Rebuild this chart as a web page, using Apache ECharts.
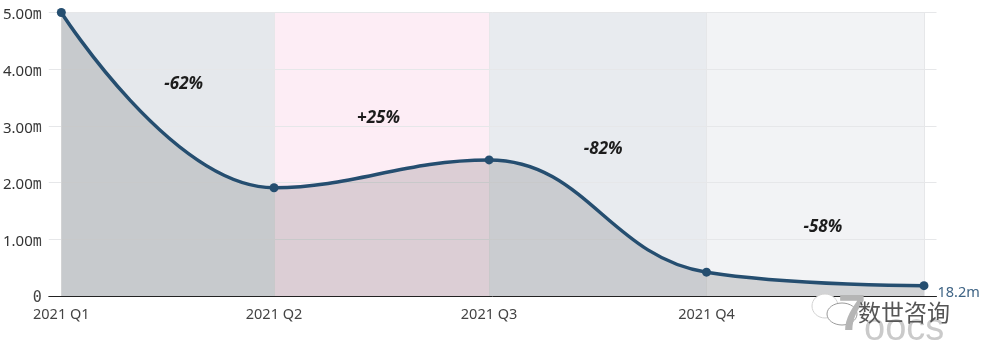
<!DOCTYPE html>
<html>
<head>
<meta charset="utf-8">
<script src="https://cdn.jsdelivr.net/npm/echarts@6/dist/echarts.min.js"></script>
<style>
html, body { margin: 0; padding: 0; background: #fff; }
#chart { width: 984px; height: 353px; }
</style>
</head>
<body>
<div id="chart"></div>
<script>
// 季度起点，单位是距 2021-01-01 的天数（季度长度不等）
const quarterDays = [0, 90, 181, 273, 365]
const quarterLabels = ['2021 Q1', '2021 Q2', '2021 Q3', '2021 Q4', '']
const values = [5.0, 1.91, 2.4, 0.42, 0.182]
const endLabel = '18.2m'
const yTicks = [0, 1, 2, 3, 4, 5]

// 每段的变化率标注
const changeLabels = ['-62%', '+25%', '-82%', '-58%']
const changeDays = [51.8, 134.2, 229.3, 322.2]
const changeValues = [3.74, 3.13, 2.59, 1.22]

const bandColors = ['#e5e8ec', '#fdedf5', '#e8ebef', '#f2f3f5']

const chartInstance = echarts.init(document.getElementById('chart'))
const fontFamily = '"Noto Sans", sans-serif'

const option = {
  animation: false,
  // 网格比首尾数据点各宽 12px 左右，横线和底线才会伸出去
  grid: { left: 47.5, right: 47.5, top: 12.5, bottom: 57 },
  xAxis: {
    type: 'value',
    min: -5.3,
    max: 370.3,
    z: 1.5,
    axisLine: { show: true, onZero: false, lineStyle: { color: '#222', width: 1 } },
    axisTick: { show: false, customValues: quarterDays },
    axisLabel: {
      customValues: quarterDays,
      color: '#444',
      fontFamily: fontFamily,
      fontSize: 14.5,
      margin: 11,
      formatter: val => quarterLabels[quarterDays.indexOf(val)]
    },
    splitLine: { show: true, lineStyle: { color: '#e6e7e9', width: 1 } }
  },
  yAxis: {
    type: 'value',
    min: 0,
    max: 5,
    interval: 1,
    z: 1.5,
    axisLine: { show: false },
    axisTick: { show: false },
    axisLabel: {
      margin: 7,
      padding: [5, 0, 0, 0],
      formatter: val => {
        if (val === yTicks[0]) return '{u|0}'
        return '{v|' + val.toFixed(2) + '}{u|m}'
      },
      rich: {
        v: { color: '#333', fontFamily: fontFamily, fontSize: 15 },
        u: { color: '#444', fontFamily: '"DejaVu Sans Mono", monospace', fontSize: 15 }
      }
    },
    splitLine: { lineStyle: { color: '#e6e7e9', width: 1 } }
  },
  series: [
    {
      type: 'line',
      data: quarterDays.map((d, i) => [d, values[i]]),
      smooth: 0.42,
      symbol: 'circle',
      symbolSize: 9,
      z: 2,
      lineStyle: { color: '#254e70', width: 3.5 },
      itemStyle: { color: '#254e70' },
      areaStyle: { color: 'rgba(0,0,0,0.13)', origin: 'start', opacity: 1 },
      label: {
        show: true,
        position: 'right',
        distance: 9,
        offset: [0, 7],
        color: '#3f6485',
        fontFamily: fontFamily,
        fontSize: 14.5,
        formatter: p => (p.dataIndex === values.length - 1 ? endLabel : '')
      },
      markArea: {
        silent: true,
        z: 1,
        data: bandColors.map((color, i) => [
          { xAxis: quarterDays[i], itemStyle: { color: color } },
          { xAxis: quarterDays[i + 1] }
        ])
      }
    },
    {
      // 只用来放百分比文字，不画点
      type: 'scatter',
      symbolSize: 0,
      z: 3,
      itemStyle: { opacity: 1 },
      data: changeDays.map((d, i) => [d, changeValues[i]]),
      label: {
        show: true,
        position: 'inside',
        color: '#1c1c1c',
        fontFamily: fontFamily,
        fontSize: 17,
        fontWeight: 'bold',
        fontStyle: 'italic',
        formatter: p => changeLabels[p.dataIndex]
      }
    }
  ],
  // 右下角的公众号水印
  graphic: [
    { type: 'ellipse', shape: { cx: 825, cy: 306, rx: 13, ry: 12 }, style: { fill: '#fff', stroke: '#d2d2d2', lineWidth: 1 }, z: 10 },
    { type: 'ellipse', shape: { cx: 842, cy: 314, rx: 15, ry: 11 }, style: { fill: '#fff', stroke: '#9a9a9a', lineWidth: 1 }, z: 10 },
    { type: 'text', x: 838, y: 291, z: 11, style: { text: '7', fill: '#b5b5b5', font: 'bold 50px "Liberation Sans"' } },
    { type: 'text', x: 864, y: 311, z: 11, style: { text: 'oocs', fill: '#cacaca', font: '38px "Liberation Sans"' } },
    { type: 'text', x: 858, y: 301, z: 12, style: { text: '数世咨询', fill: '#555', font: '23px "Noto Sans CJK SC"' } }
  ]
}
chartInstance.setOption(option)
</script>
</body>
</html>
